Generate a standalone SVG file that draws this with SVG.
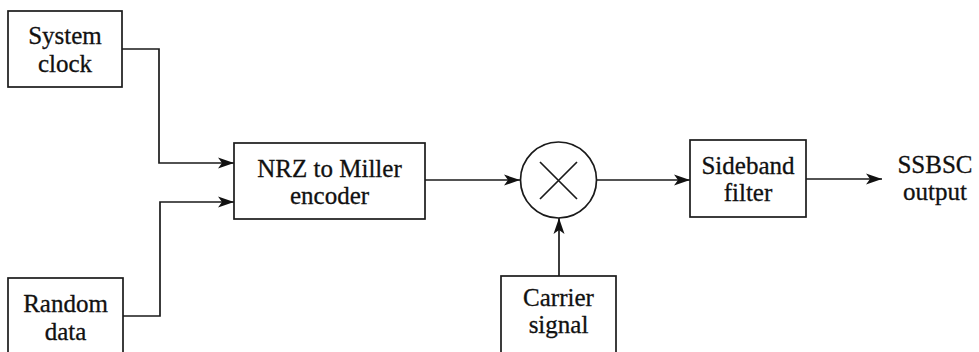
<svg xmlns="http://www.w3.org/2000/svg" width="979" height="352" viewBox="0 0 979 352">
<style>
.box{fill:#fff;stroke:#1a1a1a;stroke-width:1.7}
.t{font-family:"Liberation Serif","Times New Roman",serif;font-size:25px;fill:#111;text-anchor:middle;stroke:#111;stroke-width:0.3}
.c{fill:none;stroke:#1a1a1a;stroke-width:1.7}
</style>
<defs>
<marker id="ah" markerUnits="userSpaceOnUse" markerWidth="18" markerHeight="12" refX="16" refY="6" orient="auto">
<path d="M0,0.5 L16,6 L0,11.5 L4,6 z" fill="#111"/>
</marker>
</defs>
<rect width="979" height="352" fill="#fff"/>
<g id="connectors">
<path class="c" d="M122,49 H159 V163 H234" marker-end="url(#ah)"/>
<path class="c" d="M123,316 H160 V202 H234" marker-end="url(#ah)"/>
<path class="c" d="M425,180 H520" marker-end="url(#ah)"/>
<path class="c" d="M597,180 H690" marker-end="url(#ah)"/>
<path class="c" d="M559,276 V218" marker-end="url(#ah)"/>
<path class="c" d="M806,179 H882" marker-end="url(#ah)"/>
</g>
<g id="system-clock">
<rect class="box" x="8" y="11" width="114" height="76"/>
<text class="t" x="65" y="44">System</text>
<text class="t" x="65" y="72">clock</text>
</g>
<g id="random-data">
<rect class="box" x="8" y="278" width="115" height="90"/>
<text class="t" x="65.5" y="312">Random</text>
<text class="t" x="65.5" y="340">data</text>
</g>
<g id="nrz-miller-encoder">
<rect class="box" x="234" y="143" width="191" height="76"/>
<text class="t" x="329.5" y="177">NRZ to Miller</text>
<text class="t" x="329.5" y="204">encoder</text>
</g>
<g id="mixer">
<circle class="box" cx="558.5" cy="180" r="38"/>
<path class="c" d="M540,162 L577,199 M577,162 L540,199" stroke-width="1.3"/>
</g>
<g id="carrier-signal">
<rect class="box" x="501" y="276" width="115" height="90"/>
<text class="t" x="558.5" y="306">Carrier</text>
<text class="t" x="558.5" y="333">signal</text>
</g>
<g id="sideband-filter">
<rect class="box" x="690" y="140" width="116" height="77"/>
<text class="t" x="748" y="174">Sideband</text>
<text class="t" x="748" y="201">filter</text>
</g>
<g id="ssbsc-output">
<text class="t" x="935" y="173">SSBSC</text>
<text class="t" x="935" y="200">output</text>
</g>
</svg>
